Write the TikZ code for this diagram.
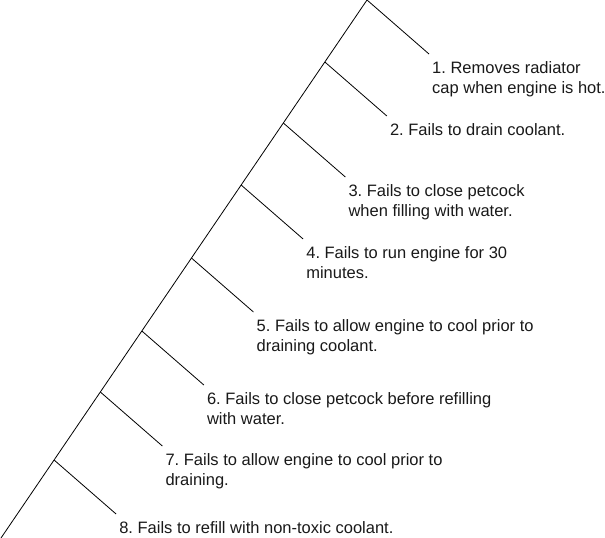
\documentclass[tikz,border=0pt]{standalone}
\usepackage{fontspec}
\setmainfont{Liberation Sans}
\frenchspacing
\usetikzlibrary{positioning}

\begin{document}
\begin{tikzpicture}[
    x=1pt, y=-1pt,
    font=\fontsize{16.5}{20}\selectfont,
    spine/.style={draw=black, line width=0.8pt},
    branch/.style={draw=black, line width=0.8pt},
    cause/.style={align=left, inner sep=0pt, text=black!90}
]
  \useasboundingbox (0,0) rectangle (605,538);

  % Main diagonal
  \coordinate (top) at (367,0);
  \coordinate (bot) at (1,538);
  \draw[spine] (top) -- (bot);

  % Branch roots along the diagonal
  \path (top) -- (bot)
    coordinate[pos=0]      (b1)
    coordinate[pos=0.1152] (b2)
    coordinate[pos=0.2286] (b3)
    coordinate[pos=0.3439] (b4)
    coordinate[pos=0.4796] (b5)
    coordinate[pos=0.6152] (b6)
    coordinate[pos=0.7286] (b7)
    coordinate[pos=0.8550] (b8);
  \foreach \i in {1,...,8}
    \path (b\i) ++(62,54) coordinate (e\i);

  % Causes
  \node[cause, below right=7pt and 3pt of e1] (c1) {1. Removes radiator\\cap when engine is hot.};
  \node[cause, below right=7pt and 3pt of e2] (c2) {2. Fails to drain coolant.};
  \node[cause, below right=7pt and 3pt of e3] (c3) {3. Fails to close petcock\\when filling with water.};
  \node[cause, below right=7pt and 3pt of e4] (c4) {4. Fails to run engine for 30\\minutes.};
  \node[cause, below right=7pt and 3pt of e5] (c5) {5. Fails to allow engine to cool prior to\\draining coolant.};
  \node[cause, below right=7pt and 3pt of e6] (c6) {6. Fails to close petcock before refilling\\with water.};
  \node[cause, below right=7pt and 3pt of e7] (c7) {7. Fails to allow engine to cool prior to\\draining.};
  \node[cause, below right=7pt and 3pt of e8] (c8) {8. Fails to refill with non-toxic coolant.};

  % Branches
  \foreach \i in {1,...,8}
    \draw[branch] (b\i) -- (e\i);
\end{tikzpicture}
\end{document}
